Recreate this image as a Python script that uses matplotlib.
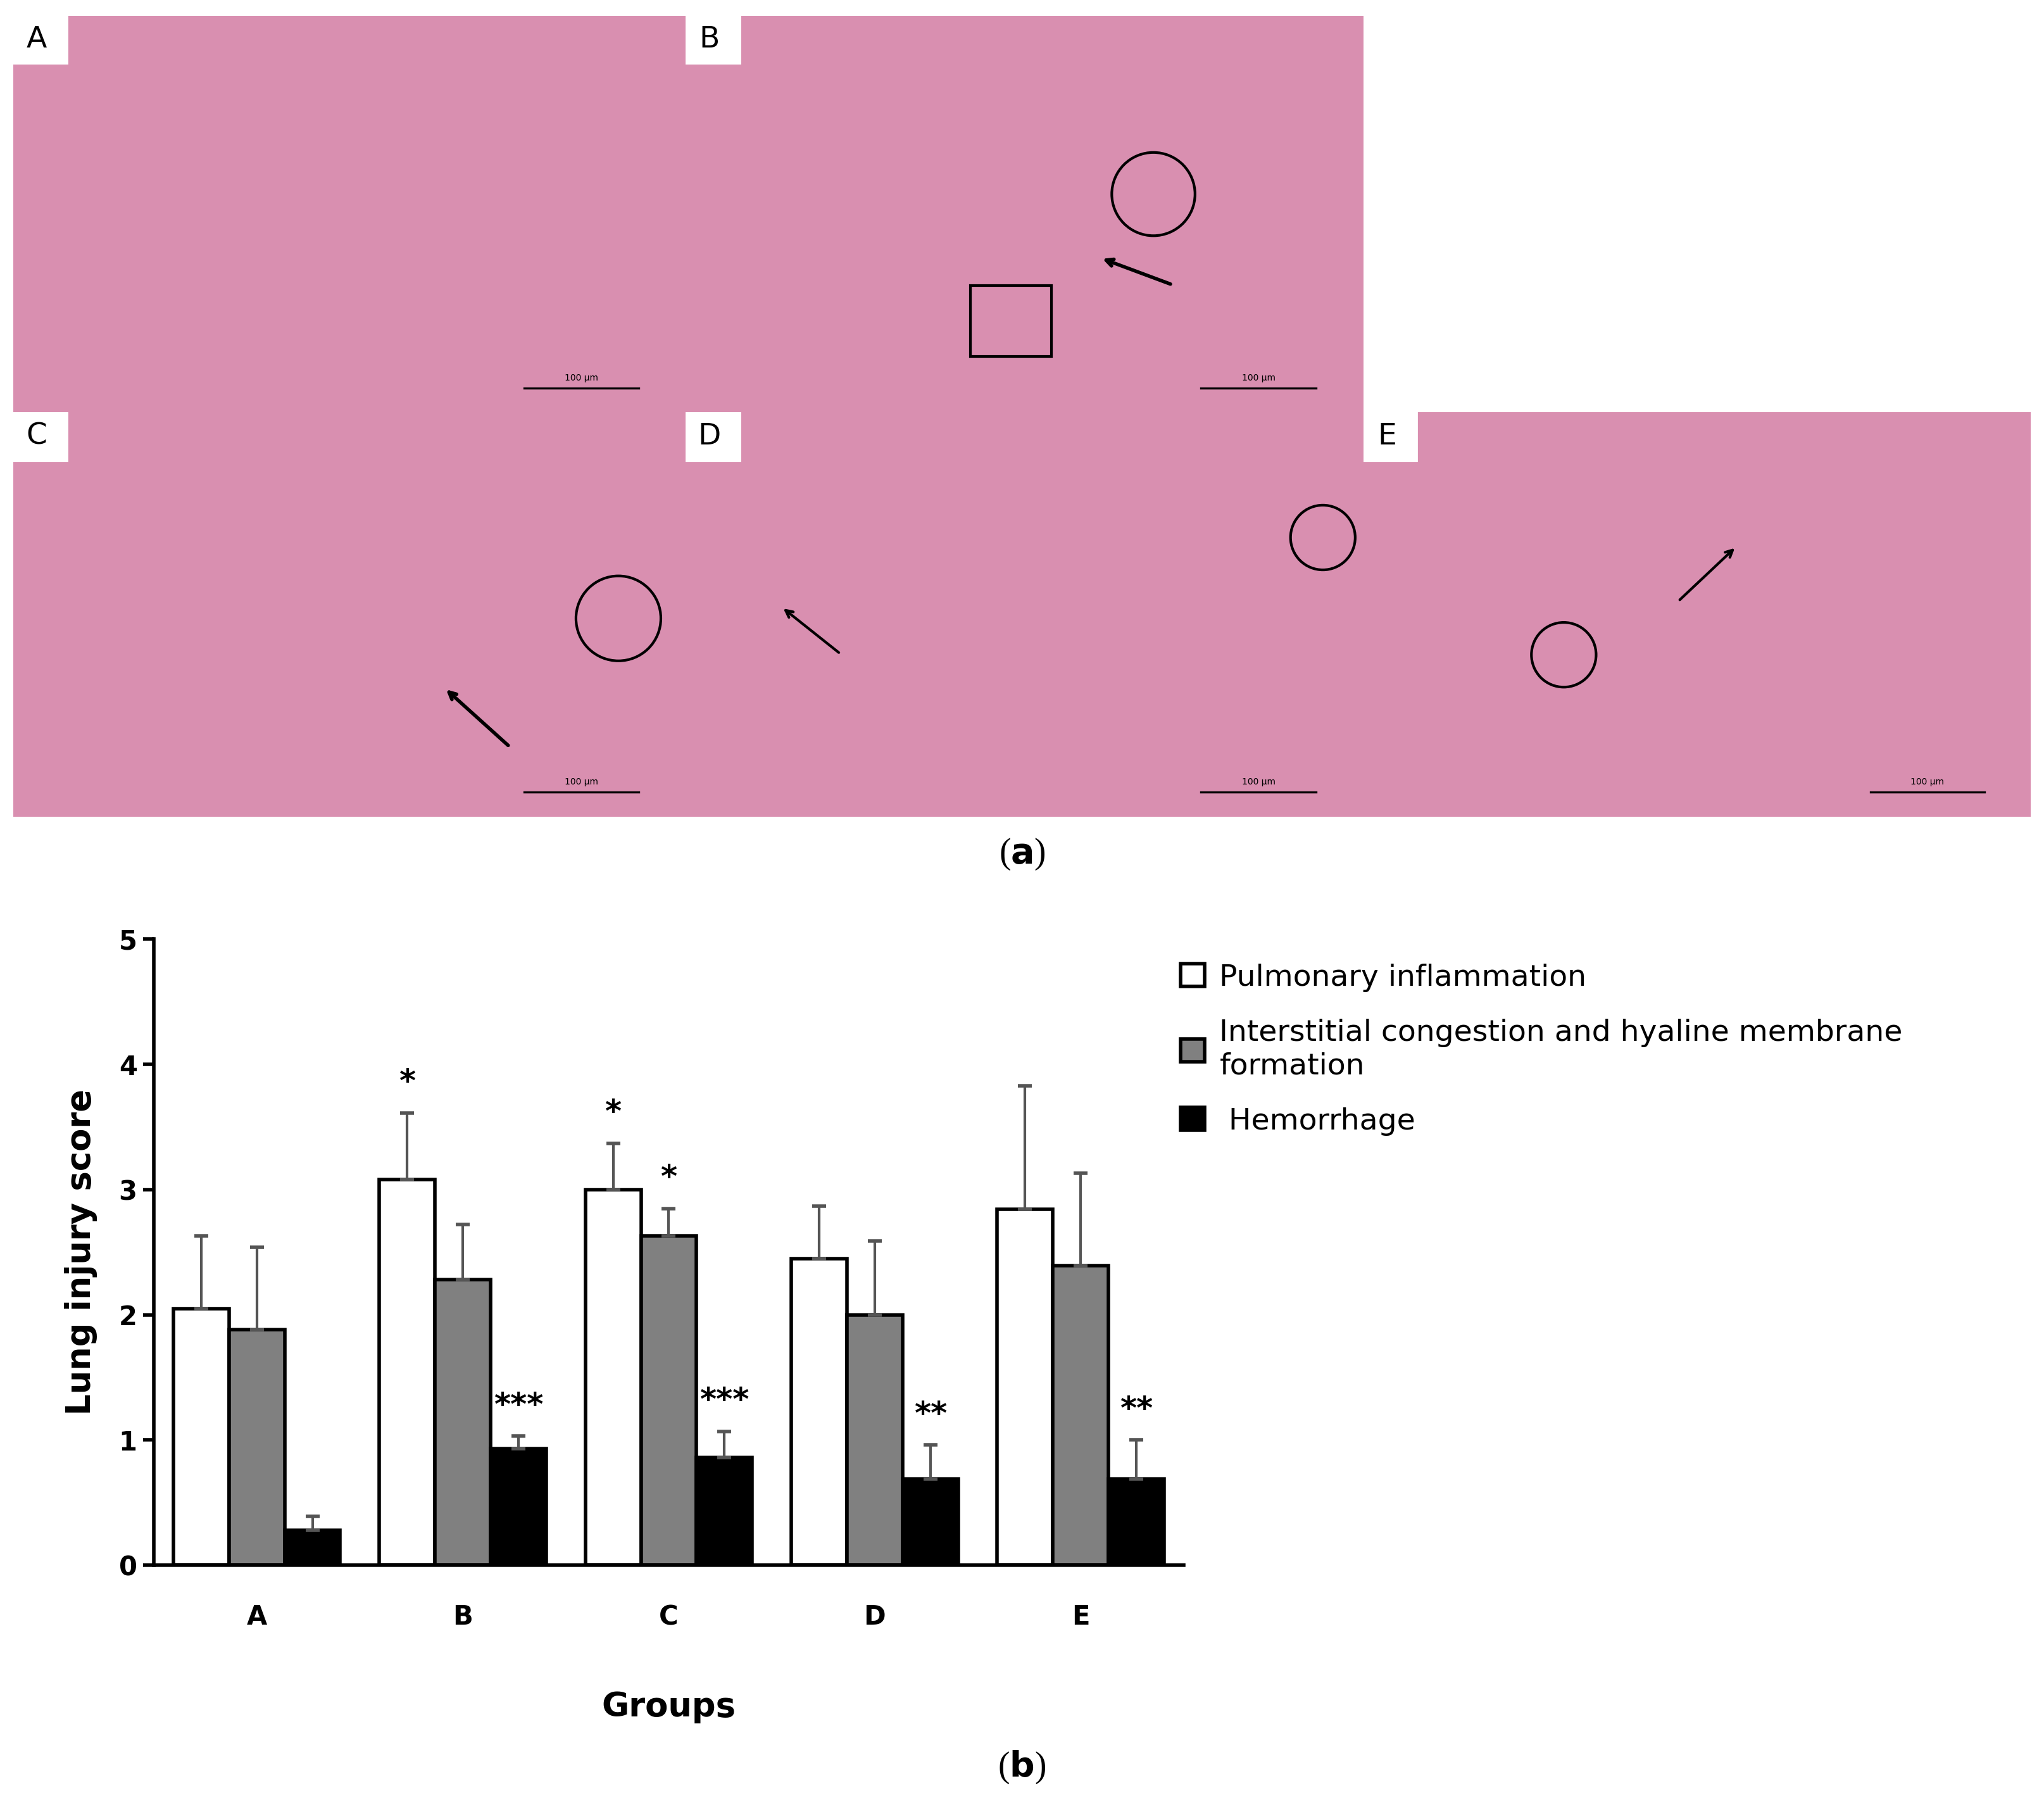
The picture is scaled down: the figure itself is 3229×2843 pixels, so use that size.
import matplotlib.pyplot as plt
import numpy as np
from matplotlib.patches import Ellipse, Rectangle

groups = ["A", "B", "C", "D", "E"]
inflammation = [2.05, 3.08, 3.00, 2.45, 2.84]
inflammation_err = [0.58, 0.53, 0.37, 0.42, 0.99]
congestion = [1.88, 2.28, 2.63, 2.00, 2.39]
congestion_err = [0.66, 0.44, 0.22, 0.59, 0.74]
hemorrhage = [0.28, 0.93, 0.86, 0.69, 0.69]
hemorrhage_err = [0.11, 0.10, 0.21, 0.27, 0.31]
stars_infl = ["", "*", "*", "", ""]
stars_cong = ["", "", "*", "", ""]
stars_hem = ["", "***", "***", "**", "**"]

W, H = 1568, 1380
fig = plt.figure(figsize=(16.145, 14.215), dpi=200)

def ax_px(x0, y0, x1, y1):
    return fig.add_axes([x0 / W, 1 - y1 / H, (x1 - x0) / W, (y1 - y0) / H])

def circ(a, xc, yc, r_px, asp):
    # round circle in a panel whose width/height ratio is asp
    a.add_patch(Ellipse((xc, yc), 2 * r_px / asp, 2 * r_px, fill=False, lw=1.5))

# histology panels (placeholders)
panels = [("A", 10, 12, 526, 316), ("B", 526, 12, 1046, 316),
          ("C", 10, 316, 526, 626), ("D", 526, 316, 1046, 626),
          ("E", 1046, 316, 1558, 626)]
for lab, x0, y0, x1, y1 in panels:
    a = ax_px(x0, y0, x1, y1)
    asp = (x1 - x0) / (y1 - y0)
    a.set_xlim(0, 1); a.set_ylim(0, 1)
    a.set_facecolor("#d98fb0")
    a.set_xticks([]); a.set_yticks([])
    for s in a.spines.values():
        s.set_visible(False)
    a.add_patch(Rectangle((0, 0.88), 0.08, 0.12, color="white"))
    a.text(0.035, 0.94, lab, fontsize=17, ha="center", va="center")
    a.plot([0.76, 0.93], [0.06, 0.06], color="k", lw=1.2)
    a.text(0.845, 0.08, "100 µm", fontsize=5, ha="center")
    if lab == "B":
        circ(a, 0.69, 0.55, 0.105, asp)
        a.add_patch(Rectangle((0.42, 0.14), 0.12, 0.18, fill=False, lw=1.5))
        a.annotate("", xy=(0.61, 0.39), xytext=(0.72, 0.32), arrowprops=dict(arrowstyle="->", lw=2))
    if lab == "C":
        circ(a, 0.9, 0.49, 0.105, asp)
        a.annotate("", xy=(0.64, 0.32), xytext=(0.74, 0.17), arrowprops=dict(arrowstyle="->", lw=2))
    if lab == "D":
        circ(a, 0.94, 0.69, 0.08, asp)
        a.annotate("", xy=(0.14, 0.52), xytext=(0.23, 0.4), arrowprops=dict(arrowstyle="->", lw=1.5))
    if lab == "E":
        circ(a, 0.3, 0.4, 0.08, asp)
        a.annotate("", xy=(0.56, 0.67), xytext=(0.47, 0.53), arrowprops=dict(arrowstyle="->", lw=1.5))

for lbl, yy in [("a", 655), ("b", 1355)]:
    fig.text(784 / W, 1 - yy / H, r"($\mathbf{%s}$)" % lbl, fontsize=20, family="Liberation Serif",
             ha="center", va="center")

# bar chart
ax = ax_px(118, 720, 908, 1200)
x = np.arange(len(groups))
w = 0.27
err_kw = dict(ecolor="#555555", capsize=4, elinewidth=1.5, capthick=2)
b1 = ax.bar(x - w, inflammation, w, yerr=[np.zeros(5), inflammation_err], color="white",
            edgecolor="black", lw=2, error_kw=err_kw, label="Pulmonary inflammation")
b2 = ax.bar(x, congestion, w, yerr=[np.zeros(5), congestion_err], color="#808080",
            edgecolor="black", lw=2, error_kw=err_kw,
            label="Interstitial congestion and hyaline membrane\nformation")
b3 = ax.bar(x + w, hemorrhage, w, yerr=[np.zeros(5), hemorrhage_err], color="black",
            edgecolor="black", lw=2, error_kw=err_kw, label=" Hemorrhage")
for off, vals, errs, st in [(-w, inflammation, inflammation_err, stars_infl),
                            (0, congestion, congestion_err, stars_cong),
                            (w, hemorrhage, hemorrhage_err, stars_hem)]:
    for i in range(5):
        if st[i]:
            ax.text(x[i] + off, vals[i] + errs[i] + 0.12, st[i], ha="center", va="bottom",
                    fontsize=18, fontweight="bold")
ax.set_xlim(-0.5, 4.5)
ax.set_ylim(0, 5)
ax.set_xticks(x, groups, fontsize=15, fontweight="bold")
ax.set_yticks(range(6))
ax.tick_params(axis="y", labelsize=15, width=2, length=6)
ax.tick_params(axis="x", length=0, pad=22)
for lbl in ax.get_yticklabels():
    lbl.set_fontweight("bold")
ax.spines["top"].set_visible(False)
ax.spines["right"].set_visible(False)
ax.spines["left"].set_linewidth(2)
ax.spines["bottom"].set_linewidth(2)
ax.set_ylabel("Lung injury score", fontsize=19, fontweight="bold", labelpad=12)
ax.set_xlabel("Groups", fontsize=19, fontweight="bold", labelpad=34)
fig.legend(handles=[b1, b2, b3], loc="upper left", bbox_to_anchor=(885 / W, 1 - 718 / H),
           frameon=False, fontsize=17, handlelength=0.8, handleheight=0.8,
           labelspacing=0.9, handletextpad=0.5)

fig.savefig("out.png", dpi=200)
